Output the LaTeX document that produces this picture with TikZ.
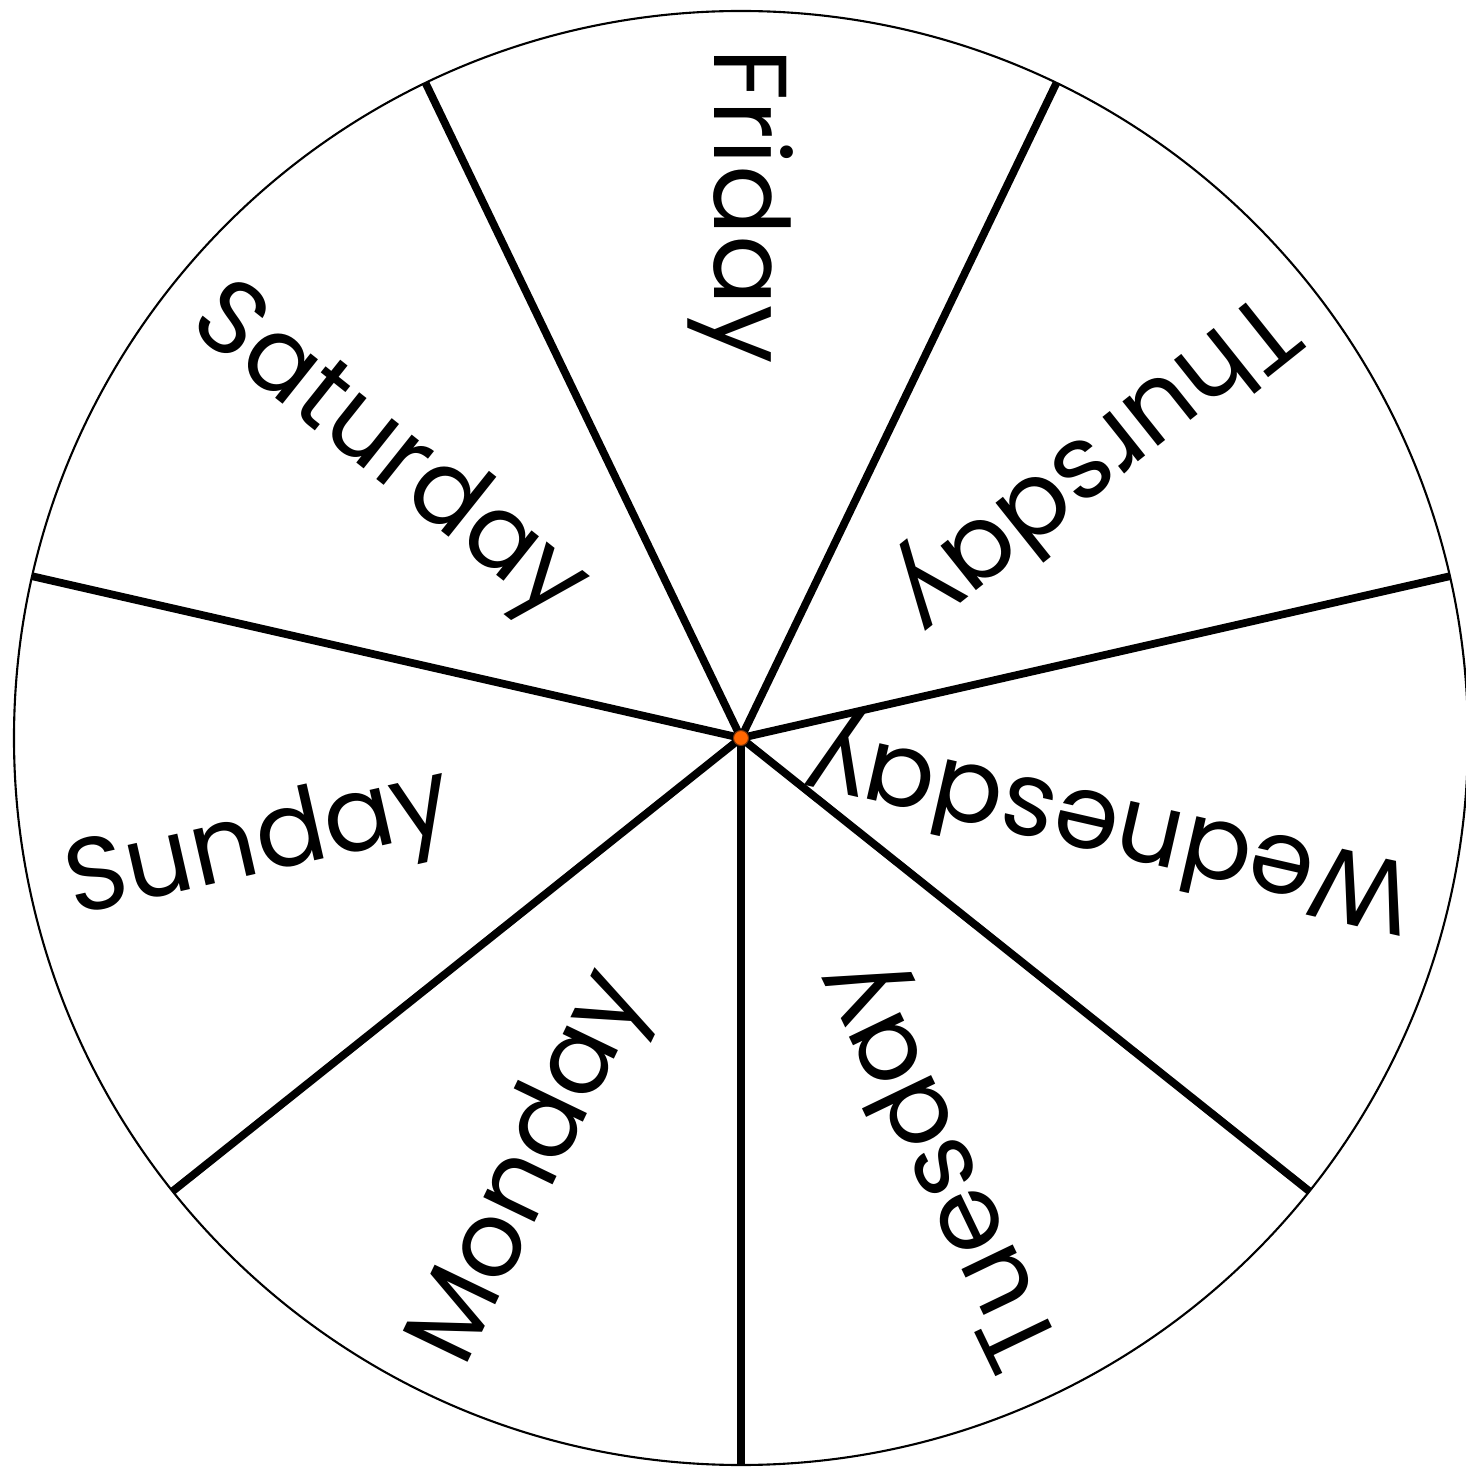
\documentclass[tikz,border=0pt]{standalone}
\usepackage{fontspec}
\setmainfont{Poppins}
\usepackage{xcolor}
\usepackage{tikz}
\definecolor{hubfill}{RGB}{255,102,0}
\definecolor{hubline}{RGB}{120,50,10}
\tikzset{
  rim/.style={draw=black, line width=0.6pt},
  spoke/.style={draw=black, line width=2.2pt},
  hubdot/.style={circle, fill=hubfill, draw=hubline, line width=0.3pt, minimum size=0.15cm, inner sep=0pt},
  day/.style={anchor=west, inner sep=0pt, font=\fontsize{29.5}{34}\selectfont}
}
\begin{document}
\begin{tikzpicture}
\useasboundingbox (-7.41,-7.29) rectangle (7.24,7.38);
\draw[rim] (0,0) circle (7.27);

% spoke ends on the rim
\coordinate (s1) at (-90:7.27);
\coordinate (s2) at (-38.571:7.27);
\coordinate (s3) at (12.857:7.27);
\coordinate (s4) at (64.286:7.27);
\coordinate (s5) at (115.714:7.27);
\coordinate (s6) at (167.143:7.27);
\coordinate (s7) at (218.571:7.27);
\coordinate (c) at (0,0);

\draw[spoke] (c) -- (s1);
\draw[spoke] (c) -- (s2);
\draw[spoke] (c) -- (s3);
\draw[spoke] (c) -- (s4);
\draw[spoke] (c) -- (s5);
\draw[spoke] (c) -- (s6);
\draw[spoke] (c) -- (s7);

% day labels, reading inward
\node[day,rotate=115.714] (tue) at (-64.286:6.9) {Tuesday};
\node[day,rotate=167.143] (wed) at (-12.857:6.9) {Wednesday};
\node[day,rotate=218.571] (thu) at (38.571:6.9) {Thursday};
\node[day,rotate=270] (fri) at (90:6.9) {Friday};
\node[day,rotate=321.429] (sat) at (141.429:6.9) {Saturday};
\node[day,rotate=12.857] (sun) at (192.857:6.9) {Sunday};
\node[day,rotate=64.286] (mon) at (244.286:6.9) {Monday};

\node[hubdot] (hub) at (c) {};
\end{tikzpicture}
\end{document}
